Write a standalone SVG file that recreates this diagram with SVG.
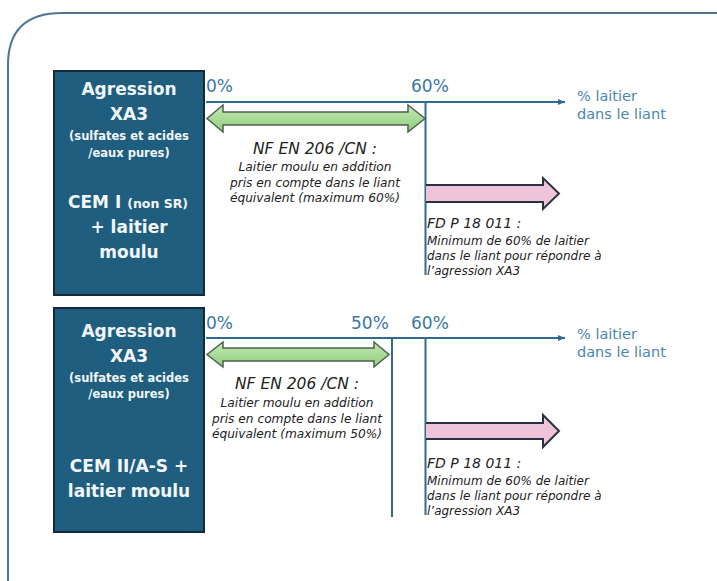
<svg xmlns="http://www.w3.org/2000/svg" width="717" height="581" viewBox="0 0 717 581">
<defs>
<style>
.box{fill:#1f5e7f;stroke:#15293a;stroke-width:2}
.bt{font-family:"DejaVu Sans","Liberation Sans",sans-serif;font-weight:bold;fill:#f2f6f8;text-anchor:middle}
.big{font-size:17px}
.small{font-size:11.5px}
.axis{stroke:#2f6b8f;stroke-width:2;fill:none}
.tick{stroke:#2f6b8f;stroke-width:2}
.pct{font-family:"DejaVu Sans","Liberation Sans",sans-serif;font-size:17px;fill:#3a78a0}
.unit{font-family:"DejaVu Sans","Liberation Sans",sans-serif;font-size:14.5px;fill:#4a88ad}
.it{font-family:"DejaVu Sans","Liberation Sans",sans-serif;font-style:italic;fill:#222}
.ttl{font-size:15.5px}
.ttl2{font-size:14px}
.body{font-size:12.2px}
.body2{font-size:12px}
.green{fill:url(#g);stroke:#4f5e52;stroke-width:1.5}
.pink{fill:#efc3d9;stroke:#28323e;stroke-width:2}
</style>
<linearGradient id="g" x1="0" y1="0" x2="0" y2="1">
<stop offset="0" stop-color="#c4e8b4"/>
<stop offset="1" stop-color="#8fcf7c"/>
</linearGradient>
<marker id="ah" markerWidth="8" markerHeight="8" refX="7" refY="4" orient="auto" markerUnits="userSpaceOnUse">
<path d="M0,1 L7,4 L0,7 Z" fill="#2f6b8f"/>
</marker>
</defs>
<rect width="717" height="581" fill="#ffffff"/>
<path d="M8,581 L8,65 Q8,13 62,13 L717,13" fill="none" stroke="#4d7595" stroke-width="2"/>

<g id="box1">
<rect class="box" x="54" y="71" width="150" height="224"/>
<text class="bt big" x="129" y="95">Agression</text>
<text class="bt big" x="129" y="120">XA3</text>
<text class="bt small" x="129" y="140">(sulfates et acides</text>
<text class="bt small" x="129" y="157">/eaux pures)</text>
<text class="bt" x="128" y="208"><tspan font-size="17px">CEM I </tspan><tspan font-size="12.5px">(non SR)</tspan></text>
<text class="bt big" x="129" y="233">+ laitier</text>
<text class="bt big" x="129" y="258">moulu</text>
</g>

<g id="box2">
<rect class="box" x="54" y="308" width="150" height="224"/>
<text class="bt big" x="129" y="337">Agression</text>
<text class="bt big" x="129" y="362">XA3</text>
<text class="bt small" x="129" y="382">(sulfates et acides</text>
<text class="bt small" x="129" y="398">/eaux pures)</text>
<text class="bt big" x="129" y="472">CEM II/A-S +</text>
<text class="bt big" x="129" y="497">laitier moulu</text>
</g>

<g id="connectors">
<line class="axis" x1="206" y1="102" x2="565" y2="102" marker-end="url(#ah)"/>
<line class="tick" x1="425.5" y1="101" x2="425.5" y2="275"/>
<line class="axis" x1="206" y1="338" x2="565" y2="338" marker-end="url(#ah)"/>
<line class="tick" x1="392" y1="337" x2="392" y2="517"/>
<line class="tick" x1="425.5" y1="337" x2="425.5" y2="515"/>
</g>

<g id="scale1">
<text class="pct" x="206" y="92">0%</text>
<text class="pct" x="411" y="92">60%</text>
<text class="unit" x="577" y="101">% laitier</text>
<text class="unit" x="577" y="119">dans le liant</text>
</g>

<g id="scale2">
<text class="pct" x="206" y="329">0%</text>
<text class="pct" x="351" y="329">50%</text>
<text class="pct" x="411" y="329">60%</text>
<text class="unit" x="577" y="339">% laitier</text>
<text class="unit" x="577" y="357">dans le liant</text>
</g>

<g id="arrow-nf1">
<path class="green" d="M207,118.5 L223,105 L223,112 L408,112 L408,105 L425,118.5 L408,132 L408,125 L223,125 L223,132 Z"/>
</g>
<g id="arrow-nf2">
<path class="green" d="M207,354.5 L223,342 L223,348 L374,348 L374,342 L389,354.5 L374,367 L374,361 L223,361 L223,367 Z"/>
</g>
<g id="arrow-fd1">
<path class="pink" d="M426,185 L543,185 L543,178 L559,193.5 L543,209 L543,202 L426,202"/>
</g>
<g id="arrow-fd2">
<path class="pink" d="M426,423 L543,423 L543,415 L559,431 L543,447 L543,439 L426,439"/>
</g>

<g id="label-nf1">
<text class="it ttl" x="315" y="154" text-anchor="middle">NF EN 206 /CN :</text>
<text class="it body" x="315" y="171" text-anchor="middle">Laitier moulu en addition</text>
<text class="it body" x="315" y="187" text-anchor="middle">pris en compte dans le liant</text>
<text class="it body" x="315" y="202" text-anchor="middle">équivalent (maximum 60%)</text>
</g>
<g id="label-nf2">
<text class="it ttl" x="297" y="389" text-anchor="middle">NF EN 206 /CN :</text>
<text class="it body" x="297" y="407" text-anchor="middle">Laitier moulu en addition</text>
<text class="it body" x="297" y="423" text-anchor="middle">pris en compte dans le liant</text>
<text class="it body" x="297" y="438" text-anchor="middle">équivalent (maximum 50%)</text>
</g>
<g id="label-fd1">
<text class="it ttl2" x="427" y="228">FD P 18 011 :</text>
<text class="it body2" x="427" y="245">Minimum de 60% de laitier</text>
<text class="it body2" x="427" y="260">dans le liant pour répondre à</text>
<text class="it body2" x="427" y="275">l’agression XA3</text>
</g>
<g id="label-fd2">
<text class="it ttl2" x="427" y="468">FD P 18 011 :</text>
<text class="it body2" x="427" y="485">Minimum de 60% de laitier</text>
<text class="it body2" x="427" y="500">dans le liant pour répondre à</text>
<text class="it body2" x="427" y="515">l’agression XA3</text>
</g>
</svg>
